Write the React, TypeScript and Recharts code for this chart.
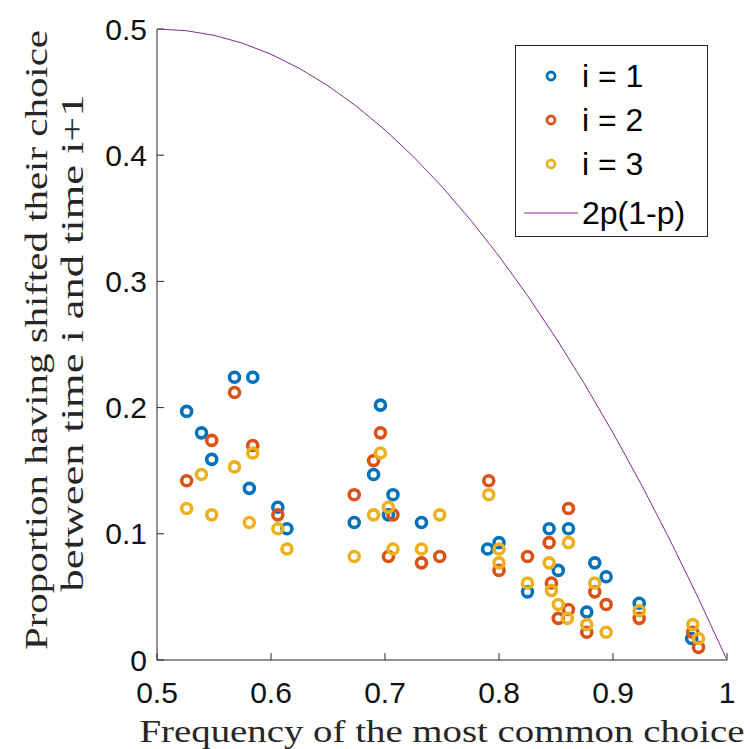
import React from 'react';
import { ScatterChart, Scatter, XAxis, YAxis, Legend } from 'recharts';

// Frequency of the most common choice (x) and proportion of switchers (y), per step i
const freqI1 = [0.526, 0.539, 0.548, 0.568, 0.584, 0.581, 0.606, 0.614, 0.673, 0.69, 0.696, 0.707, 0.703, 0.732, 0.79, 0.8, 0.825, 0.844, 0.861, 0.852, 0.884, 0.894, 0.877, 0.923, 0.969];
const shiftI1 = [0.197, 0.18, 0.159, 0.224, 0.224, 0.136, 0.121, 0.104, 0.109, 0.147, 0.202, 0.131, 0.115, 0.109, 0.088, 0.093, 0.054, 0.104, 0.104, 0.071, 0.077, 0.066, 0.038, 0.045, 0.017];

const freqI2 = [0.526, 0.548, 0.568, 0.584, 0.606, 0.673, 0.69, 0.696, 0.707, 0.703, 0.732, 0.748, 0.791, 0.8, 0.825, 0.844, 0.861, 0.846, 0.852, 0.861, 0.884, 0.894, 0.877, 0.923, 0.97, 0.975];
const shiftI2 = [0.142, 0.174, 0.212, 0.17, 0.115, 0.131, 0.158, 0.18, 0.115, 0.082, 0.077, 0.082, 0.142, 0.071, 0.082, 0.093, 0.12, 0.061, 0.033, 0.04, 0.054, 0.044, 0.022, 0.033, 0.022, 0.01];

const freqI3 = [0.526, 0.539, 0.548, 0.568, 0.584, 0.581, 0.606, 0.614, 0.673, 0.69, 0.696, 0.703, 0.707, 0.732, 0.748, 0.791, 0.8, 0.8, 0.825, 0.844, 0.861, 0.846, 0.852, 0.86, 0.884, 0.877, 0.894, 0.923, 0.97, 0.975];
const shiftI3 = [0.12, 0.147, 0.115, 0.153, 0.164, 0.109, 0.104, 0.088, 0.082, 0.115, 0.164, 0.121, 0.088, 0.088, 0.115, 0.131, 0.088, 0.077, 0.061, 0.077, 0.093, 0.055, 0.044, 0.033, 0.061, 0.028, 0.022, 0.039, 0.028, 0.017];

// Reference curve 2p(1-p), tabulated on p = 0.5 ... 1
const curveP = [0.5, 0.525, 0.55, 0.575, 0.6, 0.625, 0.65, 0.675, 0.7, 0.725, 0.75, 0.775, 0.8, 0.825, 0.85, 0.875, 0.9, 0.925, 0.95, 0.975, 1];
const curveV = [0.5, 0.49875, 0.495, 0.48875, 0.48, 0.46875, 0.455, 0.43875, 0.42, 0.39875, 0.375, 0.34875, 0.32, 0.28875, 0.255, 0.21875, 0.18, 0.13875, 0.095, 0.04875, 0];

const xTicks = [0.5, 0.6, 0.7, 0.8, 0.9, 1];
const yTicks = [0, 0.1, 0.2, 0.3, 0.4, 0.5];

const seriesNames = ['i = 1', 'i = 2', 'i = 3'];
const curveName = '2p(1-p)';
const colors = ['#0072BD', '#D95319', '#EDB120'];
const curveColor = '#7E2F8E';

const zip = (xs: number[], ys: number[]) => xs.map((p, k) => ({ p, s: ys[k] }));
const seriesData = [zip(freqI1, shiftI1), zip(freqI2, shiftI2), zip(freqI3, shiftI3)];
const curveData = zip(curveP, curveV);

const SANS = '"Liberation Sans", Arial, Helvetica, sans-serif';
const SERIF = '"Liberation Serif", "Times New Roman", serif';
const AXIS = '#262626';

const ring = (color: string) => (props: any) => (
  <circle cx={props.cx} cy={props.cy} r={5} fill="none" stroke={color} strokeWidth={3.6} />
);

const fmt = (v: number) => String(Number(v.toFixed(1)));

const XTitle = () => (
  <text
    x={442}
    y={742}
    textAnchor="middle"
    fontFamily={SERIF}
    fontSize={31}
    fill={AXIS}
    textLength={605}
    lengthAdjust="spacingAndGlyphs"
  >
    Frequency of the most common choice
  </text>
);

const YTitle = () => (
  <g fontFamily={SERIF} fontSize={31} fill={AXIS}>
    <text transform="translate(47,340) rotate(-90)" textAnchor="middle" textLength={620} lengthAdjust="spacingAndGlyphs">
      Proportion having shifted their choice
    </text>
    <text transform="translate(83,343) rotate(-90)" textAnchor="middle" textLength={497} lengthAdjust="spacingAndGlyphs">
      between time i and time i+1
    </text>
  </g>
);

const LegendBox = () => (
  <div
    style={{
      width: 193,
      height: 192,
      boxSizing: 'border-box',
      border: `1px solid ${AXIS}`,
      background: '#fff',
      fontFamily: SANS,
      fontSize: 32,
      color: '#000',
      position: 'relative',
    }}
  >
    {seriesNames.map((name, k) => (
      <div key={name} style={{ position: 'absolute', left: 0, top: 30 + k * 44 - 19, height: 38, display: 'flex', alignItems: 'center' }}>
        <svg width={66} height={38}>
          <circle cx={35} cy={19} r={4} fill="none" stroke={colors[k]} strokeWidth={2.8} />
        </svg>
        <span style={{ lineHeight: '38px' }}>{name}</span>
      </div>
    ))}
    <div style={{ position: 'absolute', left: 0, top: 167 - 19, height: 38, display: 'flex', alignItems: 'center' }}>
      <svg width={66} height={38}>
        <line x1={8} y1={19} x2={62} y2={19} stroke={curveColor} strokeWidth={1} />
      </svg>
      <span style={{ lineHeight: '38px' }}>{curveName}</span>
    </div>
  </div>
);

export default function App() {
  return (
    <div style={{ position: 'absolute', left: 0, top: 0, width: 750, height: 749, background: '#fff' }}>
      <ScatterChart width={750} height={749} margin={{ top: 29, right: 23, bottom: 59, left: 97 }}>
        <XAxis
          type="number"
          dataKey="p"
          domain={[0.5, 1]}
          ticks={xTicks}
          tickFormatter={fmt}
          allowDataOverflow
          height={30}
          stroke={AXIS}
          tickSize={-7}
          tickMargin={29}
          tick={{ fill: '#111', fontSize: 30, fontFamily: SANS }}
          label={<XTitle />}
        />
        <YAxis
          type="number"
          dataKey="s"
          domain={[0, 0.5]}
          ticks={yTicks}
          tickFormatter={fmt}
          allowDataOverflow
          width={60}
          stroke={AXIS}
          tickSize={-7}
          tickMargin={17}
          tick={{ fill: '#111', fontSize: 30, fontFamily: SANS }}
          label={<YTitle />}
        />
        {seriesData.map((d, k) => (
          <Scatter
            key={seriesNames[k]}
            name={seriesNames[k]}
            data={d}
            fill={colors[k]}
            shape={ring(colors[k])}
            isAnimationActive={false}
          />
        ))}
        <Scatter
          name={curveName}
          data={curveData}
          fill={curveColor}
          line={{ stroke: curveColor, strokeWidth: 1 }}
          lineType="joint"
          shape={() => <g />}
          isAnimationActive={false}
        />
        <Legend
          layout="vertical"
          align="center"
          verticalAlign="middle"
          wrapperStyle={{ left: 515, top: 45, width: 193, height: 192 }}
          content={() => <LegendBox />}
        />
      </ScatterChart>
    </div>
  );
}
